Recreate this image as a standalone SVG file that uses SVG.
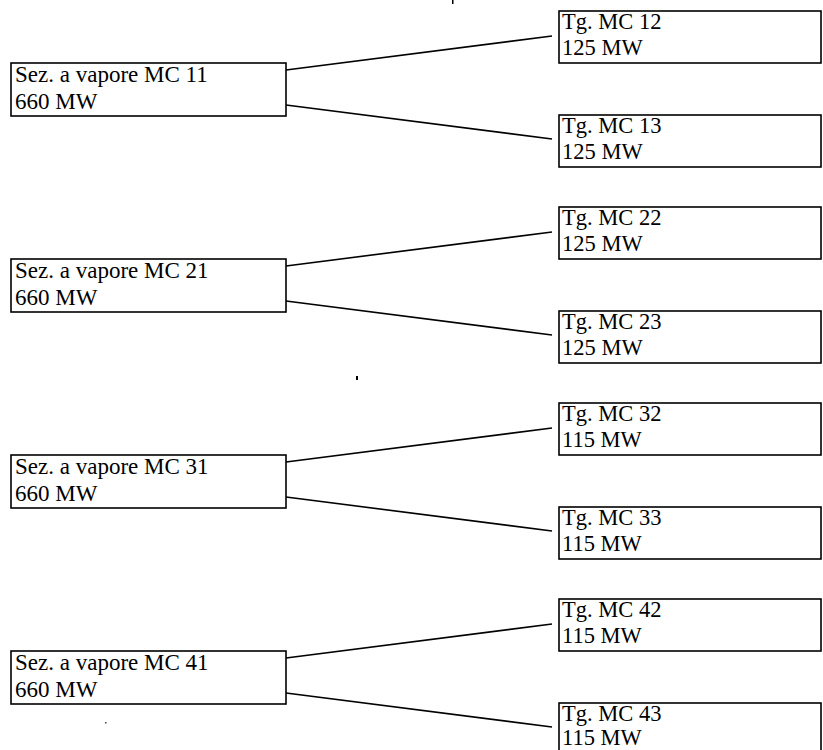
<svg xmlns="http://www.w3.org/2000/svg" width="823" height="750" viewBox="0 0 823 750">
<style>
.box{fill:#fff;stroke:#000;stroke-width:1.6}
.t{font-family:"Liberation Serif","Times New Roman",serif;font-size:22.5px;fill:#000}
.l{font-size:23px}
.c{stroke:#000;stroke-width:1.6;fill:none}
</style>
<rect width="823" height="750" fill="#fff"/>
<g id="connectors">
<line class="c" x1="286" y1="70" x2="552" y2="36"/>
<line class="c" x1="286" y1="105" x2="552" y2="139"/>
<line class="c" x1="286" y1="266" x2="552" y2="232"/>
<line class="c" x1="286" y1="301" x2="552" y2="335"/>
<line class="c" x1="286" y1="462" x2="552" y2="428"/>
<line class="c" x1="286" y1="497" x2="552" y2="531"/>
<line class="c" x1="286" y1="658" x2="552" y2="624"/>
<line class="c" x1="286" y1="693" x2="552" y2="727"/>
</g>
<g id="mc11"><rect class="box" x="11" y="63" width="275" height="53"/><text class="t l" x="15" y="82">Sez. a vapore MC 11</text><text class="t l" x="15" y="109">660 MW</text></g>
<g id="mc12"><rect class="box" x="559" y="11" width="262" height="52"/><text class="t" x="562" y="29">Tg. MC 12</text><text class="t" x="562" y="55">125 MW</text></g>
<g id="mc13"><rect class="box" x="559" y="115" width="262" height="52"/><text class="t" x="562" y="133">Tg. MC 13</text><text class="t" x="562" y="159">125 MW</text></g>
<g id="mc21"><rect class="box" x="11" y="259" width="275" height="53"/><text class="t l" x="15" y="278">Sez. a vapore MC 21</text><text class="t l" x="15" y="305">660 MW</text></g>
<g id="mc22"><rect class="box" x="559" y="207" width="262" height="52"/><text class="t" x="562" y="225">Tg. MC 22</text><text class="t" x="562" y="251">125 MW</text></g>
<g id="mc23"><rect class="box" x="559" y="311" width="262" height="52"/><text class="t" x="562" y="329">Tg. MC 23</text><text class="t" x="562" y="355">125 MW</text></g>
<g id="mc31"><rect class="box" x="11" y="455" width="275" height="53"/><text class="t l" x="15" y="474">Sez. a vapore MC 31</text><text class="t l" x="15" y="501">660 MW</text></g>
<g id="mc32"><rect class="box" x="559" y="403" width="262" height="52"/><text class="t" x="562" y="421">Tg. MC 32</text><text class="t" x="562" y="447">115 MW</text></g>
<g id="mc33"><rect class="box" x="559" y="507" width="262" height="52"/><text class="t" x="562" y="525">Tg. MC 33</text><text class="t" x="562" y="551">115 MW</text></g>
<g id="mc41"><rect class="box" x="11" y="651" width="275" height="53"/><text class="t l" x="15" y="670">Sez. a vapore MC 41</text><text class="t l" x="15" y="697">660 MW</text></g>
<g id="mc42"><rect class="box" x="559" y="599" width="262" height="52"/><text class="t" x="562" y="617">Tg. MC 42</text><text class="t" x="562" y="643">115 MW</text></g>
<g id="mc43"><rect class="box" x="559" y="703" width="262" height="52"/><text class="t" x="562" y="721">Tg. MC 43</text><text class="t" x="562" y="745">115 MW</text></g>
<rect x="356" y="376" width="2" height="4" fill="#000"/>
<rect x="452" y="0" width="1.5" height="4" fill="#000"/>
<rect x="105" y="722" width="1.5" height="1.5" fill="#444"/>
</svg>
